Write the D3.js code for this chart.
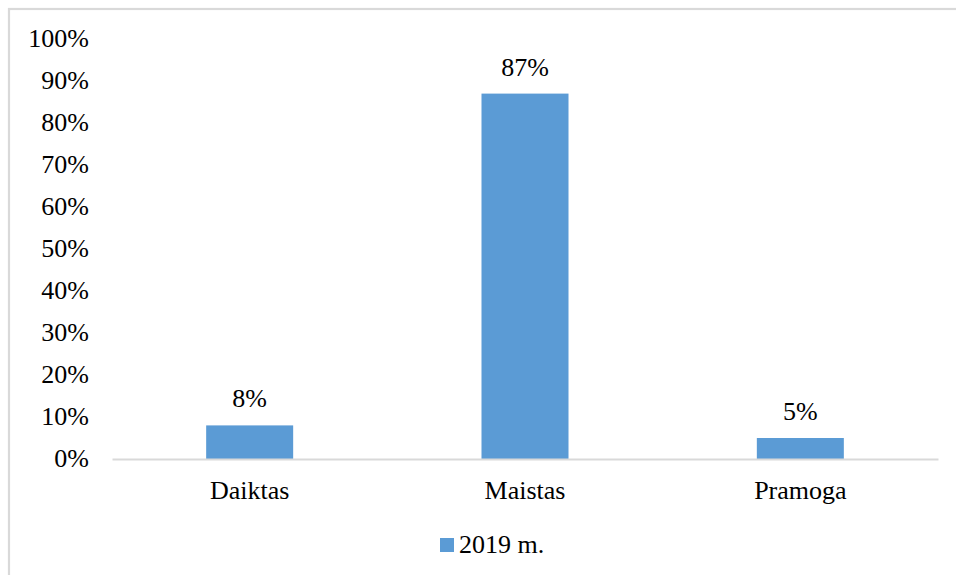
<!DOCTYPE html>
<html>
<head>
<meta charset="utf-8">
<script src="https://cdn.jsdelivr.net/npm/d3@7"></script>
<style>
  html, body { margin: 0; padding: 0; background: #fff; }
  svg { display: block; }
  text { font-family: "Liberation Serif", "Times New Roman", serif; fill: #000; }
</style>
</head>
<body>
<svg id="chart" width="956" height="575"></svg>
<script>
// Chart data
const categories = ["Daiktas", "Maistas", "Pramoga"];
const values = [8, 87, 5];
const seriesName = "2019 m.";
const yTicks = [0, 10, 20, 30, 40, 50, 60, 70, 80, 90, 100];

const svg = d3.select("#chart");
const W = 956, H = 575;

// Chart frame (extends past right and bottom edges)
svg.append("rect")
  .attr("x", 9).attr("y", 9)
  .attr("width", W + 20).attr("height", H + 20)
  .attr("fill", "#fff")
  .attr("stroke", "#d9d9d9").attr("stroke-width", 2.2);

const plot = { left: 112, right: 938, top: 39, bottom: 459 };

const x = d3.scaleBand()
  .domain(categories)
  .range([plot.left, plot.right])
  .paddingInner(0.684)
  .paddingOuter(0.342);

const y = d3.scaleLinear()
  .domain([0, 100])
  .range([plot.bottom, plot.top]);

// Y axis labels
const yAxis = d3.axisLeft(y)
  .tickValues(yTicks)
  .tickFormat(d => d + "%")
  .tickSize(0)
  .tickPadding(0);

const yg = svg.append("g")
  .attr("transform", `translate(89,0)`)
  .call(yAxis);
yg.select(".domain").remove();
yg.selectAll("text")
  .attr("font-family", "Liberation Serif, Times New Roman, serif")
  .attr("font-size", 26)
  .attr("fill", "#000")
  .attr("dy", "0.3em");

// Bars
svg.append("g").selectAll("rect")
  .data(values)
  .join("rect")
  .attr("x", (d, i) => x(categories[i]))
  .attr("y", d => y(d))
  .attr("width", x.bandwidth())
  .attr("height", d => y(0) - y(d))
  .attr("fill", "#5b9bd5");

// Baseline
const xAxis = d3.axisBottom(x).tickSize(0).tickPadding(0);
const xg = svg.append("g")
  .attr("transform", `translate(0,${plot.bottom})`)
  .call(xAxis);
xg.select(".domain")
  .attr("stroke", "#d9d9d9")
  .attr("stroke-width", 2.2);
xg.selectAll("text")
  .attr("font-family", "Liberation Serif, Times New Roman, serif")
  .attr("font-size", 26)
  .attr("fill", "#000")
  .attr("dy", null)
  .attr("y", 40);

// Data labels
svg.append("g").selectAll("text")
  .data(values)
  .join("text")
  .attr("x", (d, i) => x(categories[i]) + x.bandwidth() / 2)
  .attr("y", d => y(d) - 18)
  .attr("text-anchor", "middle")
  .attr("font-size", 26)
  .text(d => d + "%");

// Legend
const lg = svg.append("g").attr("transform", "translate(440,538)");
lg.append("rect")
  .attr("width", 14).attr("height", 14)
  .attr("fill", "#5b9bd5");
lg.append("text")
  .attr("x", 19).attr("y", 15)
  .attr("font-size", 26)
  .text(seriesName);
</script>
</body>
</html>
